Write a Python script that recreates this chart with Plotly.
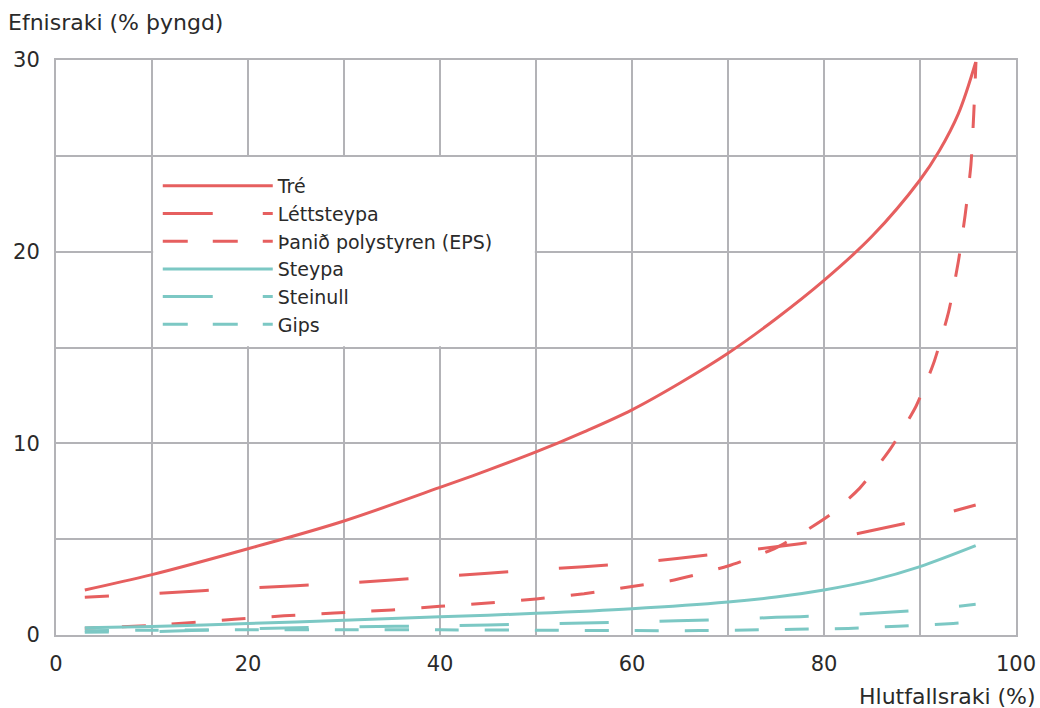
import plotly.graph_objects as go

# ---- data ----
tre_x = [3, 10, 20, 30, 40, 45, 50, 55, 60, 65, 70, 75, 80, 85, 90, 92, 94, 95.8]
tre_y = [2.35, 3.15, 4.5, 5.95, 7.7, 8.6, 9.55, 10.6, 11.75, 13.15, 14.7, 16.5, 18.5,
         20.8, 23.74, 25.25, 27.2, 29.88]

lett_x = [3, 10, 20, 30, 40, 50, 60, 70, 75, 80, 85, 90, 95.8]
lett_y = [1.97, 2.15, 2.45, 2.7, 3.05, 3.4, 3.75, 4.3, 4.6, 4.95, 5.45, 6.0, 6.78]

eps_x = [3, 10, 18.6, 23.75, 29, 35, 40, 45, 50, 55, 60, 64, 70, 75, 78.6, 80.7,
         83.7, 86.9, 89.6, 91.5, 93, 94, 94.7, 95.3, 95.6, 95.83]
eps_y = [0.35, 0.5, 0.82, 1.0, 1.15, 1.31, 1.5, 1.67, 1.88, 2.15, 2.53, 2.83, 3.6,
         4.55, 5.6, 6.3, 7.65, 9.7, 11.95, 14.3, 16.9, 19.5, 21.9, 24.5, 27.2, 29.9]

steypa_x = [3, 10, 20, 30, 40, 50, 60, 70, 75, 80, 85, 90, 95.8]
steypa_y = [0.38, 0.45, 0.6, 0.77, 0.95, 1.13, 1.37, 1.72, 1.98, 2.35, 2.85, 3.57, 4.66]

steinull_x = [3, 10, 15, 20, 25, 30, 40, 50, 60, 70, 75, 80, 85, 90, 95.8]
steinull_y = [0.15, 0.17, 0.25, 0.33, 0.38, 0.42, 0.48, 0.58, 0.68, 0.82, 0.92, 1.0, 1.13, 1.3, 1.6]

gips_x = [3, 10, 20, 30, 40, 50, 60, 67, 72, 77, 82.5, 87.7, 93, 95.8]
gips_y = [0.22, 0.25, 0.27, 0.27, 0.27, 0.25, 0.23, 0.23, 0.26, 0.3, 0.34, 0.46, 0.59, 0.7]

series_names = ["Tré", "Léttsteypa", "Þanið polystyren (EPS)", "Steypa", "Steinull", "Gips"]

x_ticks = [0, 10, 20, 30, 40, 50, 60, 70, 80, 90, 100]
x_ticktext = ["0", "", "20", "", "40", "", "60", "", "80", "", "100"]
y_ticks = [0, 5, 10, 15, 20, 25, 30]
y_ticktext = ["0", "", "10", "", "20", "", "30"]

# ---- styles ----
RED = "#e65f5f"
TEAL = "#7cc8c4"
GRID = "#b3b3b7"
FONT = "DejaVu Sans"
TXT = "#2a2a2a"


def dash_pattern(first_dash, first_gap, dash, gap, n):
    parts = [first_dash, first_gap] + [dash, gap] * n
    return ",".join(f"{p}px" for p in parts)


# dash patterns as they fall along the curves in the plot
LONG_DASH_PLOT = dash_pattern(24, 51, 49, 51, 14)
SHORT_DASH_RED_PLOT = dash_pattern(11, 26, 24, 26, 40)
SHORT_DASH_TEAL_PLOT = "24px,26px"
# dash patterns as shown in the legend keys
LONG_DASH_KEY = "50px,50px"
SHORT_DASH_KEY = "25px,25px"

series = [
    (series_names[0], tre_x, tre_y, RED, "solid", "solid", 1.0),
    (series_names[1], lett_x, lett_y, RED, LONG_DASH_PLOT, LONG_DASH_KEY, 0.8),
    (series_names[2], eps_x, eps_y, RED, SHORT_DASH_RED_PLOT, SHORT_DASH_KEY, 0.6),
    (series_names[3], steypa_x, steypa_y, TEAL, "solid", "solid", 0.9),
    (series_names[4], steinull_x, steinull_y, TEAL, LONG_DASH_PLOT, LONG_DASH_KEY, 0.8),
    (series_names[5], gips_x, gips_y, TEAL, SHORT_DASH_TEAL_PLOT, SHORT_DASH_KEY, 0.8),
]

fig = go.Figure()
for name, xs, ys, col, dash, keydash, sm in series:
    fig.add_trace(go.Scatter(
        x=xs, y=ys, name=name, mode="lines", showlegend=False, legendgroup=name,
        line=dict(color=col, width=3, dash=dash, shape="spline", smoothing=sm),
    ))
for name, xs, ys, col, dash, keydash, sm in series:
    # legend key for the series (no points of its own)
    fig.add_trace(go.Scatter(
        x=[None], y=[None], name=name, mode="lines", showlegend=True, legendgroup=name,
        line=dict(color=col, width=3, dash=keydash),
        hoverinfo="skip",
    ))

# white panel behind the legend (hides the gridlines there)
fig.add_shape(type="rect", xref="x", yref="y", x0=10.12, x1=49.88, y0=15.06, y1=24.94,
              fillcolor="white", line=dict(width=0), layer="between")

fig.update_layout(
    width=1040, height=708,
    margin=dict(l=56, r=24, t=60, b=73, autoexpand=False),
    paper_bgcolor="white", plot_bgcolor="white",
    font=dict(family=FONT, size=20, color=TXT),
    showlegend=True,
    hovermode=False,
    legend=dict(
        x=0.106, y=0.814, xanchor="left", yanchor="top",
        bgcolor="rgba(0,0,0,0)", borderwidth=0,
        font=dict(family=FONT, size=19, color=TXT),
        itemwidth=110, tracegroupgap=0,
    ),
    xaxis=dict(
        range=[0, 100], tickvals=x_ticks, ticktext=x_ticktext,
        showgrid=True, gridcolor=GRID, gridwidth=2,
        showline=True, linecolor=GRID, linewidth=2, mirror=True,
        zeroline=False, ticks="", ticklabelstandoff=9, automargin=False,
        tickfont=dict(family=FONT, size=21, color=TXT),
    ),
    yaxis=dict(
        range=[0, 30], tickvals=y_ticks, ticktext=y_ticktext,
        showgrid=True, gridcolor=GRID, gridwidth=2,
        showline=True, linecolor=GRID, linewidth=2, mirror=True,
        zeroline=False, ticks="", ticklabelstandoff=10, automargin=False,
        tickfont=dict(family=FONT, size=21, color=TXT),
    ),
    annotations=[
        dict(text="Efnisraki (% þyngd)", xref="paper", yref="paper",
             x=-0.052, y=1.066, xanchor="left", yanchor="middle",
             showarrow=False, font=dict(family=FONT, size=22, color=TXT)),
        dict(text="Hlutfallsraki (%)", xref="paper", yref="paper",
             x=1.0229, y=-0.1078, xanchor="right", yanchor="middle",
             showarrow=False, font=dict(family=FONT, size=22, color=TXT)),
    ],
)

fig.write_html(
    "out.html",
    config={"displayModeBar": False},
    post_script="document.body.style.margin='0';document.body.style.overflow='hidden';",
)
